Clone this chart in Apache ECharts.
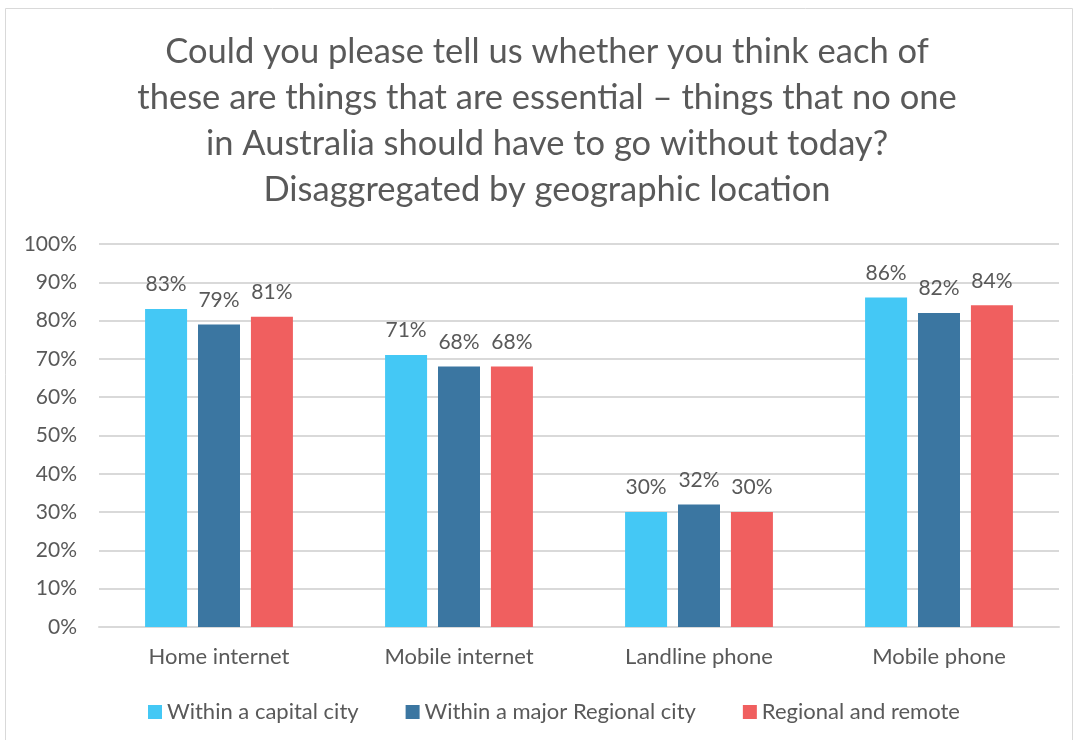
<!DOCTYPE html>
<html><head><meta charset="utf-8">
<script src="https://cdn.jsdelivr.net/npm/echarts@6/dist/echarts.min.js"></script>
<style>html,body{margin:0;padding:0;background:#fff}#c{width:1074px;height:740px}</style>
</head><body><div id="c"></div>
<script>
const categories = ['Home internet', 'Mobile internet', 'Landline phone', 'Mobile phone'];
const seriesNames = ['Within a capital city', 'Within a major Regional city', 'Regional and remote'];
const capital = [83, 71, 30, 86];
const regionalCity = [79, 68, 32, 82];
const regionalRemote = [81, 68, 30, 84];
const colors = ['#44C8F5', '#3B76A1', '#F05F5F'];
const titleText = 'Could you please tell us whether you think each of\nthese are things that are essential \u2013 things that no one\nin Australia should have to go without today?\nDisaggregated by geographic location';
const FONT = 'Lato';
const txt = '#595959';
const chart = echarts.init(document.getElementById('c'));
const data = [capital, regionalCity, regionalRemote];
chart.setOption({
  animation: false,
  textStyle: {fontFamily: FONT},
  graphic: [{type: 'rect', shape: {x: 5.5, y: 8.5, width: 1067, height: 740}, style: {fill: 'none', stroke: '#d9d9d9', lineWidth: 1}, silent: true}],
  title: {text: titleText, left: 542, textAlign: 'center', top: 24, textStyle: {fontFamily: FONT, fontSize: 34.5, fontWeight: 'normal', color: txt, lineHeight: 46}},
  legend: {bottom: 12, left: 143, itemWidth: 14, itemHeight: 14, itemGap: 47, icon: 'rect', textStyle: {fontFamily: FONT, fontSize: 22, color: txt}, data: seriesNames},
  grid: {left: 99, right: 15, top: 244, bottom: 113},
  xAxis: {type: 'category', data: categories, axisTick: {show: false}, axisLine: {lineStyle: {color: '#d9d9d9', width: 2}}, axisLabel: {fontFamily: FONT, fontSize: 22, color: txt, margin: 19}},
  yAxis: {type: 'value', min: 0, max: 100, interval: 10, axisLabel: {formatter: '{value}%', fontFamily: FONT, fontSize: 21, color: txt, margin: 22}, splitLine: {lineStyle: {color: '#d9d9d9', width: 2}}},
  series: seriesNames.map((n, i) => ({
    name: n, type: 'bar', data: data[i], barWidth: 42, barGap: '26%',
    itemStyle: {color: colors[i]},
    label: {show: true, position: 'top', formatter: '{c}%', fontFamily: FONT, fontSize: 21, color: txt, distance: 14}
  }))
});
</script></body></html>
